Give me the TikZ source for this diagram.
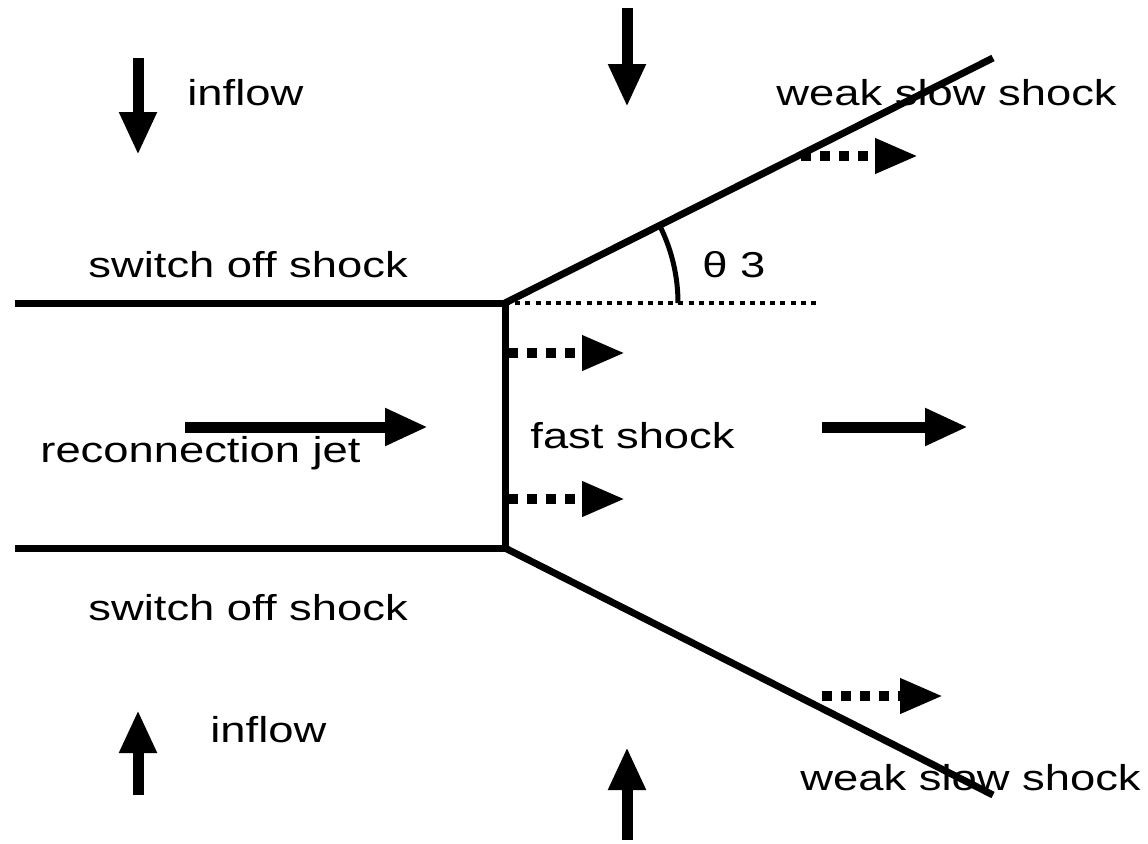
\documentclass[tikz,border=0pt]{standalone}
\usepackage{fontspec}
\setmainfont[FakeStretch=1.26]{Liberation Sans}
\usetikzlibrary{arrows.meta}
\begin{document}
\begin{tikzpicture}[x=0.5pt,y=-0.5pt,
  shockline/.style={line width=3.5pt},
  bigarrow/.style={line width=5.5pt,-{Triangle[length=21.5pt,width=17.5pt]}},
  dotarrow/.style={line width=5pt,dash pattern=on 5pt off 4.5pt,-{Triangle[length=21.5pt,width=16.5pt]}},
  refline/.style={line width=2pt,dash pattern=on 2.5pt off 2.6pt},
  lbl/.style={inner sep=0pt,anchor=base west,font=\fontsize{18pt}{20pt}\selectfont}]
\useasboundingbox (0,0) rectangle (1148,843);
% shock geometry
\coordinate (TL) at (15,303);
\coordinate (BL) at (15,548);
\coordinate (TR) at (505,303);
\coordinate (BR) at (505,548);
\coordinate (UE) at (993,58);
\coordinate (LE) at (993,795);
\coordinate (DE) at (820,303);
\draw[shockline] (TL) -- (TR) -- (BR) -- (BL);
\draw[shockline] (TR) -- (UE);
\draw[shockline] (BR) -- (LE);
\draw[refline] (TR) -- (DE);
\draw[line width=2.5pt] ([shift={(173,0)}]TR) arc[start angle=0,end angle=-26.66,radius=173];
% solid arrows
\coordinate (a1s) at (138,58);  \coordinate (a1e) at (138,155);
\coordinate (a2s) at (627,8);   \coordinate (a2e) at (627,107);
\coordinate (a3s) at (138,795); \coordinate (a3e) at (138,710);
\coordinate (a4s) at (627,840); \coordinate (a4e) at (627,747);
\coordinate (a5s) at (185,427); \coordinate (a5e) at (428,427);
\coordinate (a6s) at (822,427); \coordinate (a6e) at (968,427);
\draw[bigarrow] (a1s) -- (a1e);
\draw[bigarrow] (a2s) -- (a2e);
\draw[bigarrow] (a3s) -- (a3e);
\draw[bigarrow] (a4s) -- (a4e);
\draw[bigarrow] (a5s) -- (a5e);
\draw[bigarrow] (a6s) -- (a6e);
% dotted arrows
\coordinate (d1s) at (508,353); \coordinate (d1e) at (625,353);
\coordinate (d2s) at (508,499); \coordinate (d2e) at (625,499);
\coordinate (d3s) at (801,156); \coordinate (d3e) at (918,156);
\coordinate (d4s) at (822,696); \coordinate (d4e) at (943,696);
\draw[dotarrow] (d1s) -- (d1e);
\draw[dotarrow] (d2s) -- (d2e);
\draw[dotarrow] (d3s) -- (d3e);
\draw[dotarrow] (d4s) -- (d4e);
% labels
\node[lbl] (inflowT) at (187,105) {inflow};
\node[lbl] (inflowB) at (210,742) {inflow};
\node[lbl] (sosT) at (88,277) {switch off shock};
\node[lbl] (sosB) at (88,620) {switch off shock};
\node[lbl] (jet) at (40,462) {reconnection jet};
\node[lbl] (fast) at (530,448) {fast shock};
\node[lbl] (theta) at (702,277) {θ 3};
\node[lbl] (wssT) at (776,105) {weak slow shock};
\node[lbl] (wssB) at (800,790) {weak slow shock};
\end{tikzpicture}
\end{document}
